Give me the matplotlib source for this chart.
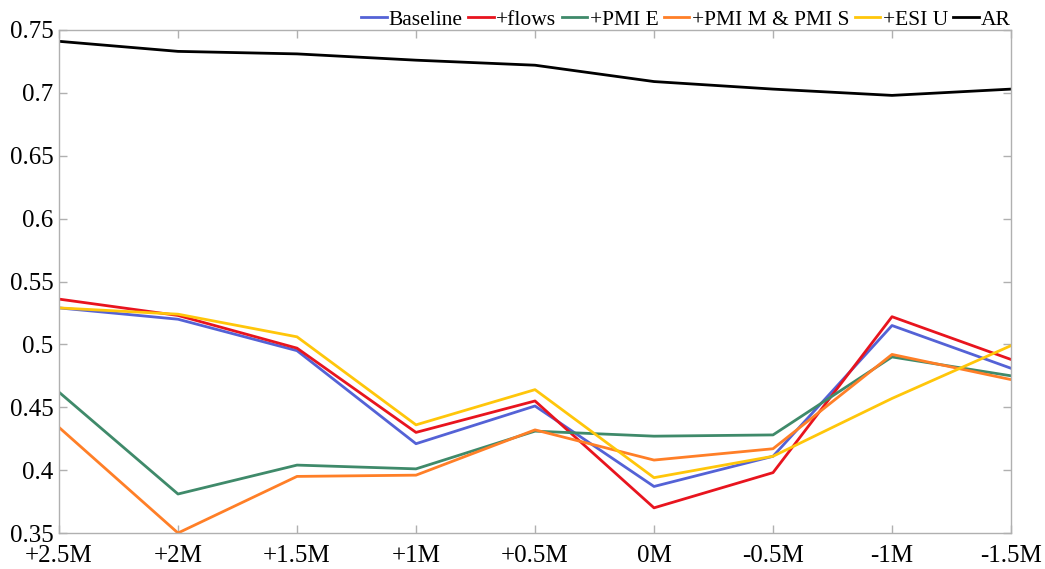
import numpy as np
import matplotlib.pyplot as plt

plt.rcParams['font.family'] = ['Liberation Serif', 'DejaVu Serif']

# x categories (horizon shift)
labels = ['+2.5M', '+2M', '+1.5M', '+1M', '+0.5M', '0M', '-0.5M', '-1M', '-1.5M']

baseline = [0.529, 0.520, 0.495, 0.421, 0.451, 0.387, 0.411, 0.515, 0.481]
flows = [0.536, 0.523, 0.497, 0.430, 0.455, 0.370, 0.398, 0.522, 0.488]
pmi_e = [0.462, 0.381, 0.404, 0.401, 0.431, 0.427, 0.428, 0.490, 0.475]
pmi_ms = [0.434, 0.350, 0.395, 0.396, 0.432, 0.408, 0.417, 0.492, 0.472]
esi_u = [0.529, 0.524, 0.506, 0.436, 0.464, 0.394, 0.411, 0.457, 0.499]
ar = [0.741, 0.733, 0.731, 0.726, 0.722, 0.709, 0.703, 0.698, 0.703]

series = [
    ('Baseline', baseline, '#5462d6'),
    ('+flows', flows, '#e8141e'),
    ('+PMI E', pmi_e, '#3f8a6a'),
    ('+PMI M & PMI S', pmi_ms, '#ff7f27'),
    ('+ESI U', esi_u, '#ffc60a'),
    ('AR', ar, '#000000'),
]

fig = plt.figure(figsize=(10.45, 5.69), dpi=100)
ax = fig.add_axes([59/1045, 36/569, 952/1045, 503/569])

x = np.arange(len(labels))
for name, vals, col in series:
    ax.plot(x, vals, color=col, lw=2, label=name)

ax.set_xlim(0, len(labels) - 1)
ax.set_ylim(0.35, 0.75)
ax.set_xticks(x)
ax.set_xticklabels(labels)
ax.set_yticks([0.35, 0.4, 0.45, 0.5, 0.55, 0.6, 0.65, 0.7, 0.75])
ax.set_yticklabels(['0.35', '0.4', '0.45', '0.5', '0.55', '0.6', '0.65', '0.7', '0.75'])
ax.tick_params(direction='in', length=6, width=1, color='#b0b0b0',
               top=True, right=True, labelsize=18)
ax.tick_params(axis='y', pad=4)
ax.tick_params(axis='x', pad=9)
for s in ax.spines.values():
    s.set_color('#b0b0b0')
    s.set_linewidth(1)

ax.legend(loc='lower right', bbox_to_anchor=(1.0, 1.0), ncol=6, frameon=False,
          fontsize=15.5, handlelength=1.2, handletextpad=0.1, columnspacing=0.25,
          borderaxespad=0, borderpad=0)

fig.savefig('out.png', dpi=100)
